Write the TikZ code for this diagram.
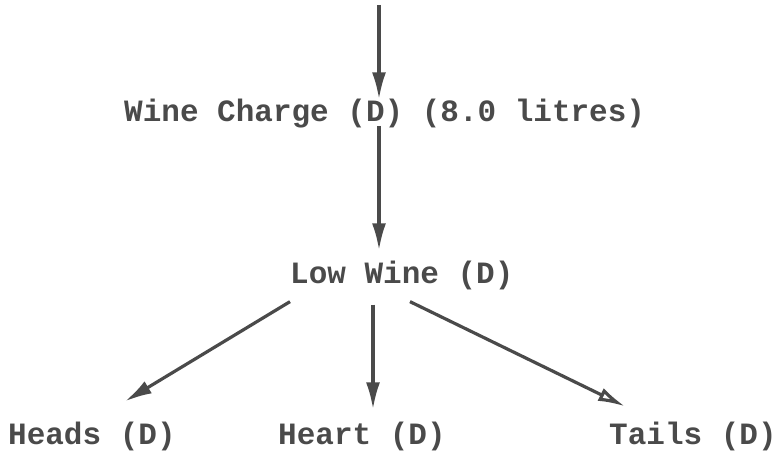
\documentclass[tikz,border=0pt]{standalone}
\usepackage{fontspec}
\setmonofont{Liberation Mono}
\usepackage{xcolor}
\usetikzlibrary{calc, positioning}
\usetikzlibrary{arrows.meta}
\definecolor{ink}{HTML}{4A4A4A}

\begin{document}
\begin{tikzpicture}[x=1pt,y=1pt,
  lbl/.style={anchor=base west,inner sep=0pt,text=ink,font=\ttfamily\bfseries\fontsize{31}{36}\selectfont},
  flow/.style={draw=ink,line width=3.2pt,-{Latex[length=27pt,width=14pt]}}]
\useasboundingbox (0,0) rectangle (781,453);
\coordinate (feed) at (379,448);
\node[lbl] (wine) at (124,331) {Wine Charge (D) (8.0 litres)};
\node[lbl] (low) at (290,170) {Low Wine (D)};
\node[lbl] (heads) at (8,9) {Heads (D)};
\node[lbl] (heart) at (278,9) {Heart (D)};
\node[lbl] (tails) at (609,9) {Tails (D)};
\draw[flow] (feed) -- (wine.north -| feed);
\draw[flow,shorten >=10pt] ($(wine.south -| feed)+(0,3)$) -- (low.north -| feed);
\draw[flow] ([shift={(0,-12)}]low.south west) -- ([shift={(117,20)}]heads.north west);
\draw[flow] ([shift={(83,-15)}]low.south west) -- ([shift={(95,12)}]heart.north west);
\draw[flow,-{Latex[open,length=27pt,width=14pt]}] ([shift={(120,-12)}]low.south west) -- ([shift={(16,15)}]tails.north west);
\end{tikzpicture}
\end{document}
